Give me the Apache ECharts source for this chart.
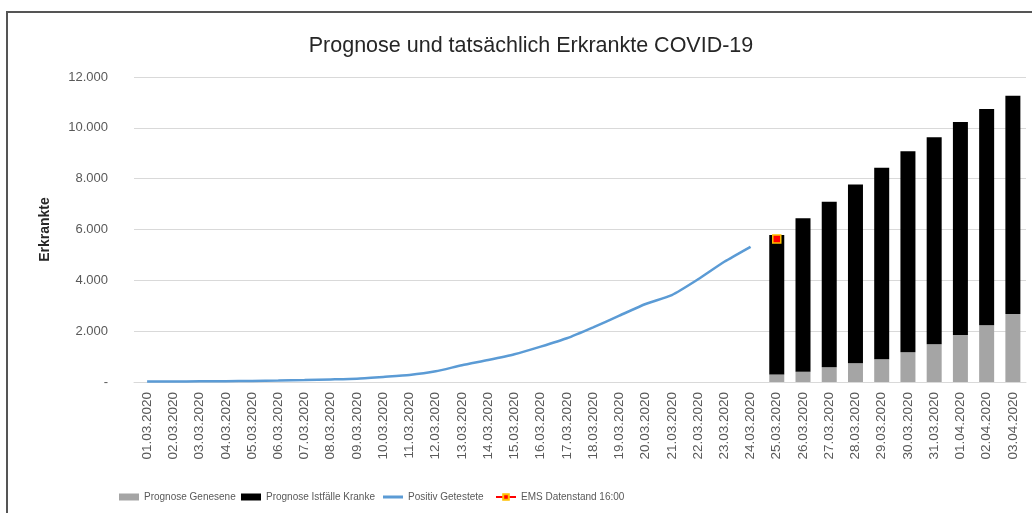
<!DOCTYPE html>
<html>
<head>
<meta charset="utf-8">
<script src="https://cdn.jsdelivr.net/npm/echarts@6/dist/echarts.min.js"></script>
<style>
  html, body { margin: 0; padding: 0; background: #fff; }
  #frame {
    position: absolute; left: 6px; top: 11px; width: 1030px; height: 510px;
    border-left: 2px solid #555; border-top: 2px solid #555;
  }
  #chart { position: absolute; left: 0; top: 0; width: 1032px; height: 513px; }
</style>
</head>
<body>
<div id="frame"></div>
<div id="chart"></div>
<script>
// Kategorien (Datum)
var dates = [
  "01.03.2020", "02.03.2020", "03.03.2020", "04.03.2020", "05.03.2020", "06.03.2020",
  "07.03.2020", "08.03.2020", "09.03.2020", "10.03.2020", "11.03.2020", "12.03.2020",
  "13.03.2020", "14.03.2020", "15.03.2020", "16.03.2020", "17.03.2020", "18.03.2020",
  "19.03.2020", "20.03.2020", "21.03.2020", "22.03.2020", "23.03.2020", "24.03.2020",
  "25.03.2020", "26.03.2020", "27.03.2020", "28.03.2020", "29.03.2020", "30.03.2020",
  "31.03.2020", "01.04.2020", "02.04.2020", "03.04.2020"
];
// Positiv Getestete (01.03 - 24.03)
var positiv = [15, 20, 25, 30, 40, 55, 75, 100, 130, 200, 275, 420,
  660, 865, 1090, 1390, 1720, 2150, 2610, 3070, 3420, 4040, 4730, 5320];
// Prognose Genesene (25.03 - 03.04)
var genesene = [300, 405, 578, 735, 893, 1168, 1483, 1849, 2230, 2675];
// Prognose Istfälle Kranke (25.03 - 03.04)
var kranke = [5483, 6035, 6515, 7040, 7537, 7907, 8143, 8379, 8510, 8588];
// EMS Datenstand 16:00
var ems = [5625];

var offset = 24; // erster Prognosetag = 25.03.
function pad(arr, start) {
  var out = [];
  for (var i = 0; i < dates.length; i++) {
    var j = i - start;
    out.push(j >= 0 && j < arr.length ? arr[j] : "-");
  }
  return out;
}

var myChart = echarts.init(document.getElementById("chart"));
var font = "'Liberation Sans', sans-serif";
var legendText = { color: "#595959", fontSize: 10, fontFamily: font };

var option = {
  animation: false,
  title: {
    text: "Prognose und tatsächlich Erkrankte COVID-19",
    left: 526,
    textAlign: "center",
    top: 30,
    textStyle: { color: "#262626", fontSize: 21.5, fontWeight: "normal", fontFamily: font },
  },
  legend: [
    { data: [{ name: "Prognose Genesene", icon: "rect" }], left: 114, top: 487, itemWidth: 20, itemHeight: 7, textStyle: legendText },
    { data: [{ name: "Prognose Istfälle Kranke", icon: "rect" }], left: 236, top: 487, itemWidth: 20, itemHeight: 7, textStyle: legendText },
    { data: [{ name: "Positiv Getestete", icon: "rect" }], left: 378, top: 487, itemWidth: 20, itemHeight: 3, textStyle: legendText },
    { data: ["EMS Datenstand 16:00"], left: 490, top: 487, itemWidth: 20, itemHeight: 7, textStyle: legendText },
  ],
  grid: { left: 134, right: 6, top: 77, bottom: 131 },
  xAxis: {
    type: "category",
    data: dates,
    axisLine: { lineStyle: { color: "#d9d9d9" } },
    axisTick: { show: false },
    axisLabel: { rotate: 90, interval: 0, color: "#595959", fontSize: 13.5, fontFamily: font, margin: 10 },
  },
  yAxis: {
    type: "value",
    min: 0,
    max: 12000,
    interval: 2000,
    name: "Erkrankte",
    nameLocation: "middle",
    nameRotate: 90,
    nameGap: 82,
    nameTextStyle: { color: "#262626", fontSize: 14, fontWeight: "bold", fontFamily: font },
    axisLine: { show: false },
    axisTick: { show: false },
    splitLine: { lineStyle: { color: "#d9d9d9" } },
    axisLabel: {
      color: "#595959", fontSize: 13, fontFamily: font, margin: 26,
      formatter: function (v) {
        if (v === 0) return "-";
        return String(v).replace(/\B(?=(\d{3})+(?!\d))/g, ".");
      },
    },
  },
  series: [
    {
      name: "Prognose Genesene",
      type: "bar",
      stack: "prognose",
      barWidth: 15,
      data: pad(genesene, offset),
      itemStyle: { color: "#a5a5a5" },
    },
    {
      name: "Prognose Istfälle Kranke",
      type: "bar",
      stack: "prognose",
      barWidth: 15,
      data: pad(kranke, offset),
      itemStyle: { color: "#000" },
    },
    {
      name: "Positiv Getestete",
      type: "line",
      data: positiv,
      symbol: "none",
      smooth: 0.2,
      lineStyle: { color: "#5b9bd5", width: 2.5 },
      itemStyle: { color: "#5b9bd5" },
    },
    {
      name: "EMS Datenstand 16:00",
      type: "line",
      data: pad(ems, offset),
      symbol: "rect",
      symbolSize: 8,
      lineStyle: { color: "#ff0000", width: 2 },
      itemStyle: { color: "#ff0000", borderColor: "#ffc000", borderWidth: 1.5 },
    },
  ],
};

myChart.setOption(option);
</script>
</body>
</html>
